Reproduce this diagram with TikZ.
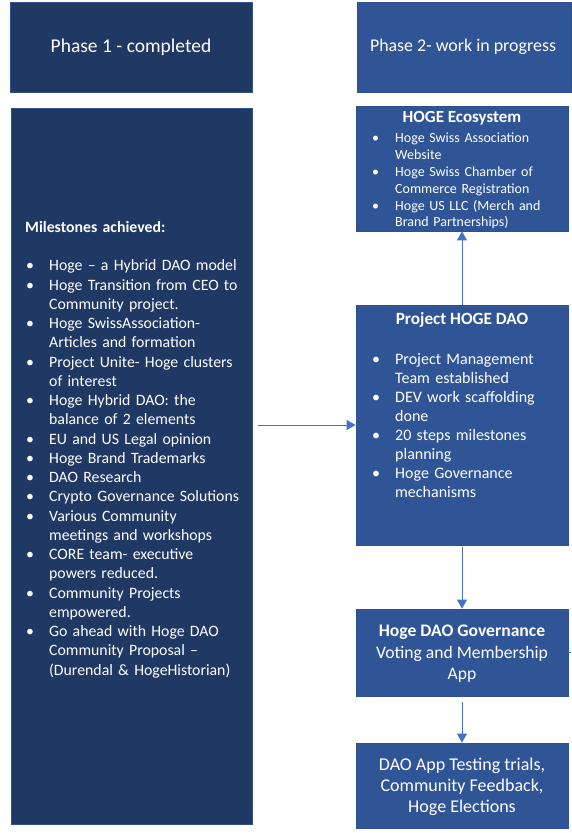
\documentclass[tikz,border=0pt]{standalone}
\usepackage{fontspec}
\setmainfont{Carlito}
\usetikzlibrary{arrows.meta}
\definecolor{navy}{HTML}{203864}
\definecolor{midblue}{HTML}{2F5597}
\definecolor{arrowblue}{HTML}{4472C4}
\definecolor{edgeblue}{HTML}{2F528F}
\newcommand{\bitem}[1]{\hspace*{1pt}\makebox[23pt][l]{\textbullet}#1}
\newcommand{\bcont}[1]{\hspace*{24pt}#1}
\begin{document}
\begin{tikzpicture}[x=1pt,y=-1pt,
  darkbox/.style={draw=edgeblue, line width=0.8pt, fill=navy, inner sep=0pt},
  midbox/.style={draw=edgeblue, line width=0.8pt, fill=midblue, inner sep=0pt},
  boxtext/.style={text=white, inner sep=0pt},
  arr/.style={draw=arrowblue, line width=1pt, -{Triangle[length=9pt,width=10pt]}},
  plain/.style={draw=arrowblue, line width=1pt}
]
\useasboundingbox (0,0) rectangle (571,833);
% left column
\node[darkbox, minimum width=242pt, minimum height=90pt] (p1) at (131,47) {};
\node[boxtext, font=\fontsize{19.5}{22}\selectfont] (p1t) at (131,47) {Phase 1 - completed};
\node[darkbox, minimum width=241pt, minimum height=716pt] (mil) at (131.5,466) {};
\node[boxtext, anchor=north west, text width=225pt, align=left,
      font=\fontsize{15.8}{19.25}\selectfont] (milt) at (25,221)
{\textbf{Milestones achieved:}\\[19.25pt]
\bitem{Hoge – a Hybrid DAO model}\\
\bitem{Hoge Transition from CEO to}\\
\bcont{Community project.}\\
\bitem{Hoge SwissAssociation-}\\
\bcont{Articles and formation}\\
\bitem{Project Unite- Hoge clusters}\\
\bcont{of interest}\\
\bitem{Hoge Hybrid DAO: the}\\
\bcont{balance of 2 elements}\\
\bitem{EU and US Legal opinion}\\
\bitem{Hoge Brand Trademarks}\\
\bitem{DAO Research}\\
\bitem{Crypto Governance Solutions}\\
\bitem{Various Community}\\
\bcont{meetings and workshops}\\
\bitem{CORE team- executive}\\
\bcont{powers reduced.}\\
\bitem{Community Projects}\\
\bcont{empowered.}\\
\bitem{Go ahead with Hoge DAO}\\
\bcont{Community Proposal –}\\
\bcont{(Durendal \& HogeHistorian)}};
% right column
\node[midbox, minimum width=214pt, minimum height=90pt] (p2) at (464,47) {};
\node[boxtext, font=\fontsize{17.9}{20}\selectfont] (p2t) at (463,47) {Phase 2- work in progress};
\node[midbox, minimum width=212pt, minimum height=125pt] (eco) at (462,168.5) {};
\node[boxtext, font=\bfseries\fontsize{17}{18}\selectfont] (ecot) at (462,118) {HOGE Ecosystem};
\node[boxtext, anchor=north west, text width=190pt, align=left,
      font=\fontsize{14}{16.8}\selectfont] (ecol) at (371,133)
{\bitem{Hoge Swiss Association}\\
\bcont{Website}\\
\bitem{Hoge Swiss Chamber of}\\
\bcont{Commerce Registration}\\
\bitem{Hoge US LLC (Merch and}\\
\bcont{Brand Partnerships)}};
\node[midbox, minimum width=212pt, minimum height=240pt] (proj) at (462,425) {};
\node[boxtext, font=\bfseries\fontsize{17.2}{18}\selectfont] (projt) at (462,320) {Project HOGE DAO};
\node[boxtext, anchor=north west, text width=190pt, align=left,
      font=\fontsize{16}{19}\selectfont] (projl) at (371,353)
{\bitem{Project Management}\\
\bcont{Team established}\\
\bitem{DEV work scaffolding}\\
\bcont{done}\\
\bitem{20 steps milestones}\\
\bcont{planning}\\
\bitem{Hoge Governance}\\
\bcont{mechanisms}};
\node[midbox, minimum width=212pt, minimum height=87pt] (gov) at (462,652.5) {};
\node[boxtext, align=center, font=\fontsize{17.6}{21.5}\selectfont] (govt) at (462,654)
{\textbf{Hoge DAO Governance}\\Voting and Membership\\App};
\node[midbox, minimum width=212pt, minimum height=85pt] (test) at (462,785.5) {};
\node[boxtext, align=center, font=\fontsize{18}{21}\selectfont] (testt) at (462,787)
{DAO App Testing trials,\\Community Feedback,\\Hoge Elections};
% connectors
\draw[arr, shorten <=6pt] (proj.west -| mil.east) -- (proj.west);
\draw[arr] (proj.north) -- (eco.south);
\draw[arr, shorten <=2pt] (proj.south) -- (gov.north);
\draw[arr, shorten <=6pt] (gov.south) -- (test.north);
\coordinate (gout) at (571,652.5);
\draw[plain] (gov.east) -- (gout);
\end{tikzpicture}
\end{document}
